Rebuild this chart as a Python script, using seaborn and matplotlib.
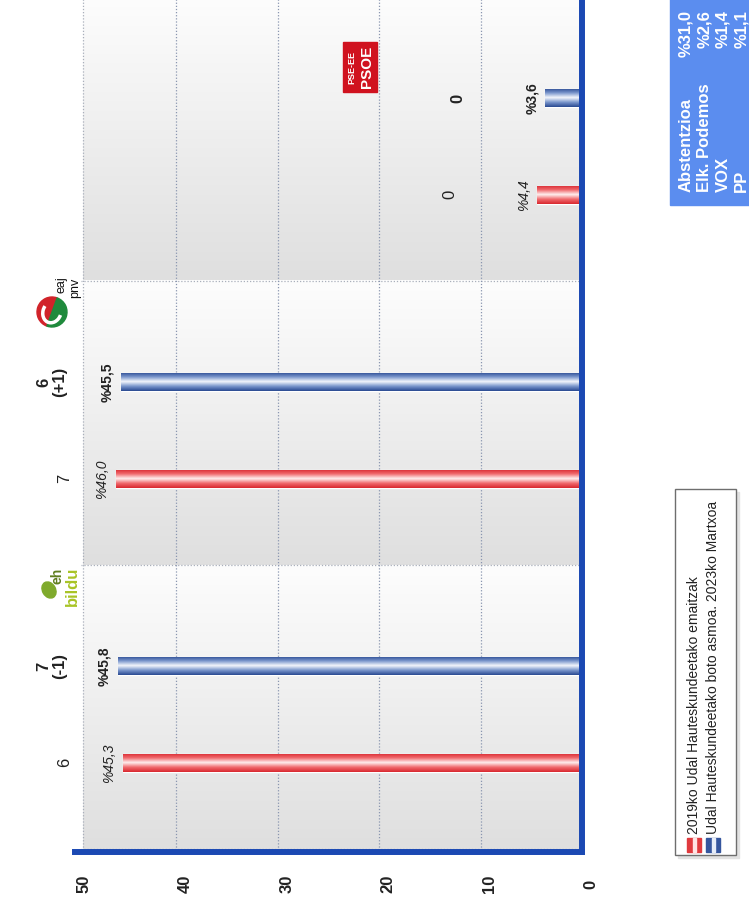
import numpy as np
import pandas as pd
import seaborn as sns
import matplotlib.pyplot as plt
from matplotlib.colors import LinearSegmentedColormap
from matplotlib.patches import Rectangle, Ellipse, Wedge, Arc
from matplotlib.transforms import Affine2D, ScaledTranslation

# data (parties listed top to bottom as they appear)
parties = ["PSE-EE", "EAJ-PNV", "EH Bildu"]
vote_2019 = [4.4, 46.0, 45.3]
vote_2023 = [3.6, 45.5, 45.8]
seats_2019 = ["0", "7", "6"]
seats_2023 = ["0", "6\n(+1)", "7\n(-1)"]
series = ["2019ko Udal Hauteskundeetako emaitzak",
          "Udal Hauteskundeetako boto asmoa. 2023ko Martxoa"]
others = ["Abstentzioa", "Elk. Podemos", "VOX", "PP"]
others_pct = [31.0, 2.6, 1.4, 1.1]
ticks = [0, 10, 20, 30, 40, 50]

RED = "#e03a3e"
BLUE = "#35569e"
AXIS_BLUE = "#1b49b3"

def pct(v):
    return "%" + f"{v:.1f}".replace(".", ",")

df = pd.DataFrame({
    "party": parties * 2,
    "pct": vote_2019 + vote_2023,
    "series": [series[0]] * 3 + [series[1]] * 3,
})

sns.set_style("white")
plt.rcParams["font.family"] = ["Liberation Sans", "DejaVu Sans"]

W, H = 749, 909
fig = plt.figure(figsize=(W / 100, H / 100), dpi=100)
ax = fig.add_axes([75 / W, 57 / H, 507 / W, 852 / H])
# transform for pixel coordinates measured from the top-left corner
px = Affine2D().scale(0.01, -0.01).translate(0, H / 100) + fig.dpi_scale_trans

sns.barplot(data=df, y="party", x="pct", hue="series",
            hue_order=[series[1], series[0]], order=parties, orient="h",
            width=0.68, palette={series[0]: RED, series[1]: BLUE},
            errorbar=None, legend=False, ax=ax, zorder=3)
bars = list(ax.patches)

red_cmap = LinearSegmentedColormap.from_list(
    "r", ["#d9282f", "#f06a6e", "#fff0f0", "#f06a6e", "#d9282f"])
blue_cmap = LinearSegmentedColormap.from_list(
    "b", ["#2a4a92", "#7a96cc", "#f4f7fc", "#7a96cc", "#2a4a92"])
grad = np.linspace(0, 1, 64).reshape(-1, 1)

for p in bars:
    fc = p.get_facecolor()
    cm = red_cmap if fc[0] > fc[2] else blue_cmap
    c = p.get_y() + p.get_height() / 2
    p.set_y(c - 0.032)
    p.set_height(0.064)
    x0, x1 = p.get_x(), p.get_x() + p.get_width()
    im = ax.imshow(grad, cmap=cm, aspect="auto", origin="upper",
                   extent=(x0, x1, c + 0.032, c - 0.032), zorder=4)
    im.set_clip_path(p)

# category panels with a vertical gradient
panel = np.linspace(0, 1, 128).reshape(-1, 1)
panel_cmap = LinearSegmentedColormap.from_list("g", ["#fdfdfd", "#dfdfdf"])
for k in range(len(parties)):
    ax.imshow(panel, cmap=panel_cmap, aspect="auto", origin="upper",
              extent=(49.2, 0, k + 0.475, k - 0.525), zorder=0)
    ax.hlines(k + 0.475, 0, 49.4, colors="#a9afbb", lw=0.9,
              linestyles=(0, (1, 1.5)), zorder=1)
ax.vlines(49.2, -0.6, 2.475, colors="#a9afbb", lw=0.9,
          linestyles=(0, (1, 1.5)), zorder=1)
ax.vlines([10, 20, 30, 40], -0.6, 2.6, colors="#8a96b0", lw=0.9,
          linestyles=(0, (1, 1.5)), zorder=1)

# value labels and seat labels
for i in range(len(parties)):
    y_red, y_blue = i + 0.17, i - 0.17
    ax.text(vote_2019[i] + 1.35, y_red, pct(vote_2019[i]), rotation=90,
            ha="center", va="center", fontsize=10, style="italic",
            color="#222222", zorder=5)
    ax.text(vote_2023[i] + 1.35, y_blue, pct(vote_2023[i]), rotation=90,
            ha="center", va="center", fontsize=10, fontweight="bold",
            color="#222222", zorder=5)
    ax.text(min(vote_2019[i] + 8.6, 51.0), y_red, seats_2019[i], rotation=90,
            ha="center", va="center", fontsize=12, color="#222222",
            clip_on=False, zorder=5)
    ax.text(min(vote_2023[i] + 8.6, 52.3), y_blue, seats_2023[i], rotation=90,
            ha="center", va="center", fontsize=12, fontweight="bold",
            color="#222222", clip_on=False, linespacing=1.0, zorder=5)

ax.set_xlim(50, 0)
ax.set_ylim(2.484, -0.516)
ax.set_xlabel("")
ax.set_ylabel("")
ax.set_yticks([])
ax.set_xticks(ticks)
ax.set_xticklabels([str(t) for t in ticks], rotation=90, fontsize=12,
                   fontweight="bold", va="center", color="#222222")
ax.tick_params(axis="x", length=0, pad=23)
shift = ScaledTranslation(0.09, 0, fig.dpi_scale_trans)
for lab in ax.get_xticklabels():
    lab.set_transform(lab.get_transform() + shift)
for s in ["left", "top"]:
    ax.spines[s].set_visible(False)
for s in ["right", "bottom"]:
    ax.spines[s].set_color(AXIS_BLUE)
    ax.spines[s].set_linewidth(4.3)
    ax.spines[s].set_capstyle("projecting")
    ax.spines[s].set_zorder(6)

# party logos (approximations)
fig.add_artist(Ellipse((49, 590), 13, 17, angle=-30, color="#7faa2c",
                       transform=px))
fig.text(58, 576, "eh", transform=px, rotation=90, ha="center", va="center",
         fontsize=10, fontweight="bold", color="#5f7f1e")
fig.text(72, 586, "bildu", transform=px, rotation=90, ha="center",
         va="center", fontsize=12, fontweight="bold", color="#a8c426")

fig.add_artist(Wedge((52, 312), 15, 110, 290, color="#d1232a", transform=px))
fig.add_artist(Wedge((52, 312), 15, 290, 470, color="#1f8a3c", transform=px))
fig.add_artist(Arc((52, 312), 18, 22, angle=20, theta1=0, theta2=200,
                   color="white", lw=2.5, transform=px))
fig.text(62, 285, "eaj", transform=px, rotation=90, ha="center", va="center",
         fontsize=9, color="#111111")
fig.text(75, 288, "pnv", transform=px, rotation=90, ha="center", va="center",
         fontsize=9, color="#111111")

fig.add_artist(Rectangle((343, 42), 34, 50, color="#d0121f", transform=px))
fig.text(352, 67, "PSE-EE", transform=px, rotation=90, ha="center",
         va="center", fontsize=6.5, fontweight="bold", color="white")
fig.text(367, 67, "PSOE", transform=px, rotation=90, ha="center",
         va="center", fontsize=11, fontweight="bold", color="white")

# other parties box
fig.add_artist(Rectangle((670, -5), 90, 210, color="#5b8def", transform=px))
for j, (name, v) in enumerate(zip(others, others_pct)):
    xx = 686 + j * 18.5
    fig.text(xx, 192, name, transform=px, rotation=90, rotation_mode="anchor",
             ha="left", va="center", fontsize=12, fontweight="bold",
             color="white")
    fig.text(xx, 10, pct(v), transform=px, rotation=90, rotation_mode="anchor",
             ha="right", va="center", fontsize=12, fontweight="bold",
             color="white")

# legend drawn by hand, rotated like the rest of the chart
fig.add_artist(Rectangle((678, 492), 61, 366, color="#e2e2e2", transform=px))
fig.add_artist(Rectangle((675, 489), 61, 366, fc="white", ec="#6e6e6e",
                         lw=1, transform=px))
for j, (lab, c, light) in enumerate(zip(series, [RED, BLUE],
                                        ["#ffe4e4", "#e8eef9"])):
    xx = 694 + j * 19
    fig.add_artist(Rectangle((xx - 7, 838), 14, 14, color=c, transform=px))
    fig.add_artist(Rectangle((xx - 1.5, 838), 3, 14, color=light,
                             transform=px))
    fig.text(xx, 834, lab, transform=px, rotation=90, rotation_mode="anchor",
             ha="left", va="center", fontsize=10, color="#222222")

fig.savefig("out.png", dpi=100)
